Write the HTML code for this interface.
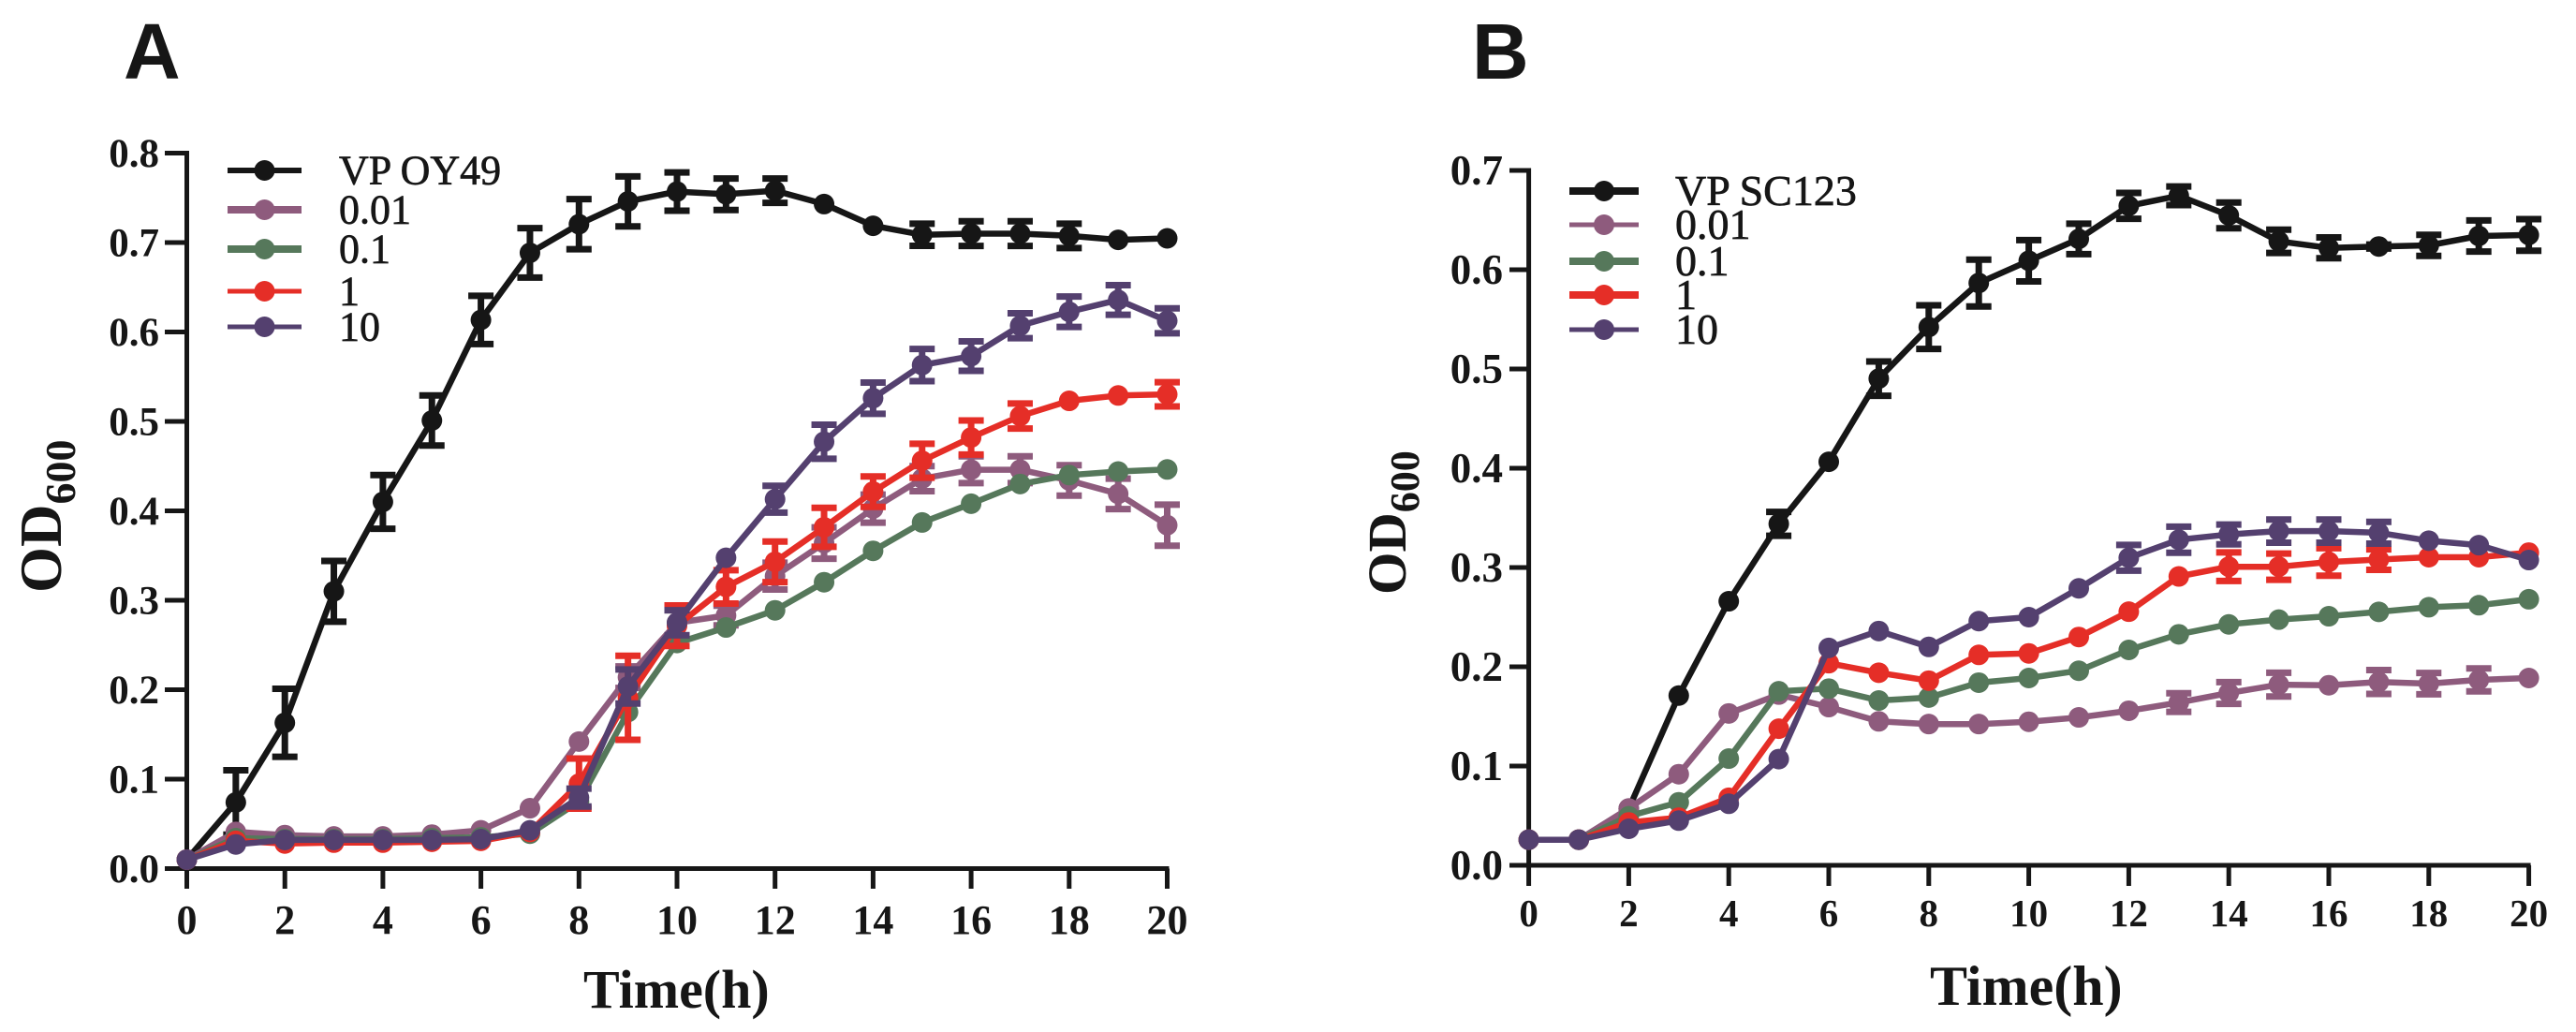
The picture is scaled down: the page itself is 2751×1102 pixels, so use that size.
<!DOCTYPE html>
<html lang="en">
<head>
<meta charset="utf-8">
<title>OD600 growth curves</title>
<style>
html,body{margin:0;padding:0;background:#fff;}
svg{display:block;}
text{fill:#161616;font-family:"Liberation Serif",serif;font-weight:bold;}
.letter{font-family:"Liberation Sans",sans-serif;font-weight:bold;font-size:84px;}
</style>
</head>
<body>
<svg id="figure" xmlns="http://www.w3.org/2000/svg" width="2751" height="1102" viewBox="0 0 2751 1102">
  <rect x="0" y="0" width="2751" height="1102" fill="#ffffff"/>
  <text class="letter" x="132" y="84">A</text>
  <text class="letter" x="1572" y="84">B</text>
  <text x="623" y="1076" font-size="58">Time(h)</text>
  <text x="2061" y="1073" font-size="60">Time(h)</text>
  <text transform="translate(65,633) rotate(-90)" font-size="63">OD<tspan font-size="46" dy="15">600</tspan></text>
  <text transform="translate(1501,635) rotate(-90)" font-size="58.5">OD<tspan font-size="44" dy="14">600</tspan></text>
  <g id="panel-a"></g>
  <g id="panel-b"></g>
</svg>
<script>
// Shared categories
const hours = [0,1,2,3,4,5,6,7,8,9,10,11,12,13,14,15,16,17,18,19,20];
const xTickValues = [0,2,4,6,8,10,12,14,16,18,20];
const seriesColors = ['#161616','#8e5b7d','#56785b','#e52e27','#54406f'];

// Panel A
const aYTicks = [0,0.1,0.2,0.3,0.4,0.5,0.6,0.7,0.8];
const aLabels = ['VP OY49','0.01','0.1','1','10'];
const aBlack = [.01,.074,.163,.31,.41,.501,.6135,.6885,.7205,.746,.757,.754,.758,.743,.7187,.7087,.71,.71,.7075,.703,.7047];
const aBlackErr = [0,.036,.038,.034,.03,.028,.027,.0276,.028,.028,.0214,.0176,.0136,0,0,.0124,.0138,.0138,.0136,0,0];
const aPink = [.01,.041,.0375,.036,.036,.038,.0428,.0675,.142,.214,.2749,.283,.327,.364,.4025,.436,.446,.446,.434,.419,.384];
const aPinkErr = [0,0,0,0,0,0,0,0,0,.012,.014,.011,.015,.0175,.0157,.014,.015,.015,.017,.017,.023];
const aGreen = [.01,.034,.033,.033,.033,.034,.035,.039,.075,.175,.2522,.2696,.2888,.3202,.3553,.387,.408,.43,.44,.444,.4463];
const aGreenErr = [0,0,0,0,0,0,0,0,0,0,0,0,0,0,0,0,0,0,0,0,0];
const aRed = [.01,.031,.028,.029,.029,.03,.031,.041,.095,.191,.2716,.315,.343,.3816,.4215,.456,.482,.506,.523,.529,.5303];
const aRedErr = [0,0,0,0,0,0,0,0,.028,.047,.0227,.0187,.0227,.0218,.017,.019,.019,.014,0,0,.0135];
const aPurple = [.01,.027,.032,.032,.032,.032,.033,.0428,.0794,.2036,.2749,.3475,.413,.4773,.526,.563,.573,.607,.6226,.6358,.6125];
const aPurpleErr = [0,0,0,0,0,0,0,0,.01,.019,.014,0,.015,.019,.0175,.018,.0165,.014,.017,.0166,.014];

// Panel B
const bYTicks = [0,0.1,0.2,0.3,0.4,0.5,0.6,0.7];
const bLabels = ['VP SC123','0.01','0.1','1','10'];
const bBlack = [.0258,.0258,.057,.171,.266,.344,.4065,.4903,.5422,.5866,.609,.631,.6643,.6745,.6547,.6286,.622,.6234,.6245,.634,.635];
const bBlackErr = [0,0,0,0,0,.012,0,.0173,.022,.0236,.0208,.0153,.013,.0094,.013,.0117,.0105,.002,.0106,.0157,.0159];
const bPink = [.0258,.0258,.0573,.0918,.153,.172,.1594,.145,.1423,.1423,.1446,.149,.1557,.164,.1736,.182,.1814,.1847,.183,.1868,.1887];
const bPinkErr = [0,0,0,0,0,0,0,0,0,0,0,0,0,.0094,.011,.012,0,.012,.0107,.0116,0];
const bGreen = [.0258,.0258,.0494,.0635,.1075,.1753,.178,.166,.169,.184,.1887,.196,.217,.2327,.2427,.2475,.2509,.2553,.26,.262,.268];
const bGreenErr = [0,0,0,0,0,0,0,0,0,0,0,0,0,0,0,0,0,0,0,0,0];
const bRed = [.0258,.0258,.0432,.048,.068,.1376,.2036,.194,.186,.212,.2135,.23,.2555,.291,.3008,.3008,.3056,.308,.3104,.3104,.315];
const bRedErr = [0,0,0,0,0,0,0,0,0,0,0,0,0,0,.0144,.0132,.0139,.0103,0,0,0];
const bPurple = [.0258,.0258,.0368,.045,.062,.107,.219,.236,.22,.246,.25,.279,.3098,.328,.3333,.3367,.3367,.335,.327,.3225,.3075];
const bPurpleErr = [0,0,0,0,0,0,0,0,0,0,0,0,.013,.0132,.01,.0117,.0117,.011,0,0,0];

const SVGNS = 'http://www.w3.org/2000/svg';

function make(tag, parent, attrs) {
  const el = document.createElementNS(SVGNS, tag);
  for (const k in attrs) el.setAttribute(k, attrs[k]);
  parent.appendChild(el);
  return el;
}

function drawPanel(cfg) {
  const root = document.getElementById(cfg.id);
  const x = h => cfg.x0 + h * cfg.xPerHour;
  const y = v => cfg.y0 - v * cfg.yPerUnit;
  const xEnd = x(hours[hours.length - 1]);
  const yMax = cfg.yTicks[cfg.yTicks.length - 1];

  // Axes
  const yAxis = make('line', root, {x1: x(0), x2: x(0), y1: y(yMax) - 2.5, y2: y(0), stroke: '#161616', 'stroke-width': 5});
  
  
  const xAxis = make('line', root, {x1: cfg.tickLeft, x2: xEnd + 2, y1: y(0), y2: y(0), stroke: '#161616', 'stroke-width': 5});
  
  

  cfg.yTicks.forEach(v => {
    if (v !== 0) {
      const t = make('line', root, {x1: cfg.tickLeft, x2: x(0), y1: y(v), y2: y(v), stroke: '#161616', 'stroke-width': 5});
      
      
    }
    const lab = make('text', root, {x: cfg.yLabelRight, y: y(v) + cfg.yLabelSize * 0.338, 'text-anchor': 'end', 'font-size': cfg.yLabelSize});
    lab.textContent = v.toFixed(1);
    
    
  });

  xTickValues.forEach(h => {
    const t = make('line', root, {x1: x(h), x2: x(h), y1: y(0), y2: cfg.tickBottom, stroke: '#161616', 'stroke-width': 5});
    
    
    const lab = make('text', root, {x: x(h), y: cfg.xLabelBase, 'text-anchor': 'middle', 'font-size': cfg.xLabelSize});
    lab.textContent = String(h);
    
    
  });

  // Series
  cfg.series.forEach((values, s) => {
    const color = seriesColors[s];
    const errs = cfg.errors[s];
    const g = make('g', root, {});
    
    
    const pts = values.map((v, i) => x(hours[i]).toFixed(1) + ',' + y(v).toFixed(1)).join(' ');
    const line = make('polyline', g, {points: pts, fill: 'none', stroke: color, 'stroke-width': cfg.lineWidth, 'stroke-linejoin': 'round'});
    
    
    values.forEach((v, i) => {
      const px = x(hours[i]);
      const e = errs[i];
      if (e > 0) {
        const eb = make('path', g, {
          d: 'M' + (px - cfg.capHalf) + ' ' + y(v + e) + 'H' + (px + cfg.capHalf) +
             'M' + px + ' ' + y(v + e) + 'V' + y(v - e) +
             'M' + (px - cfg.capHalf) + ' ' + y(v - e) + 'H' + (px + cfg.capHalf),
          fill: 'none', stroke: color, 'stroke-width': 7
        });
        
        
      }
      const m = make('circle', g, {cx: px, cy: y(v), r: cfg.markerR, fill: color});
      
      
    });
  });

  // Legend
  cfg.labels.forEach((label, s) => {
    const color = seriesColors[s];
    const ly = cfg.legendY[s];
    const g = make('g', root, {});
    
    
    const l = make('line', g, {x1: cfg.legendX1, x2: cfg.legendX2, y1: ly, y2: ly, stroke: color, 'stroke-width': cfg.legendWidths[s]});
    
    
    const c = make('circle', g, {cx: (cfg.legendX1 + cfg.legendX2) / 2, cy: ly, r: cfg.markerR, fill: color});
    
    
    const t = make('text', g, {x: cfg.legendTextX, y: ly + cfg.legendFont * 0.33, 'font-size': cfg.legendFont, style: 'font-weight:normal;stroke:#161616;stroke-width:.7px'});
    t.textContent = label;
    
    
  });
}

drawPanel({
  id: 'panel-a', x0: 199.5, xPerHour: 52.35, y0: 927.5, yPerUnit: 955,
  yTicks: aYTicks, tickLeft: 176, tickBottom: 949,
  yLabelRight: 170, yLabelSize: 43, xLabelBase: 997, xLabelSize: 44,
  series: [aBlack, aPink, aGreen, aRed, aPurple],
  errors: [aBlackErr, aPinkErr, aGreenErr, aRedErr, aPurpleErr],
  labels: aLabels, lineWidth: 6.5, markerR: 11, capHalf: 13.5,
  legendX1: 243, legendX2: 322, legendY: [182,224,266,311,349], legendWidths: [6,8,8,5,5],
  legendTextX: 362, legendFont: 44
});

drawPanel({
  id: 'panel-b', x0: 1632.6, xPerHour: 53.4, y0: 924, yPerUnit: 1060,
  yTicks: bYTicks, tickLeft: 1612, tickBottom: 946,
  yLabelRight: 1605, yLabelSize: 45, xLabelBase: 989, xLabelSize: 41,
  series: [bBlack, bPink, bGreen, bRed, bPurple],
  errors: [bBlackErr, bPinkErr, bGreenErr, bRedErr, bPurpleErr],
  labels: bLabels, lineWidth: 6.5, markerR: 11, capHalf: 13.5,
  legendX1: 1676, legendX2: 1750, legendY: [204,240,279,315,352], legendWidths: [8,5,8,8,5],
  legendTextX: 1789, legendFont: 46
});
</script>
</body>
</html>
